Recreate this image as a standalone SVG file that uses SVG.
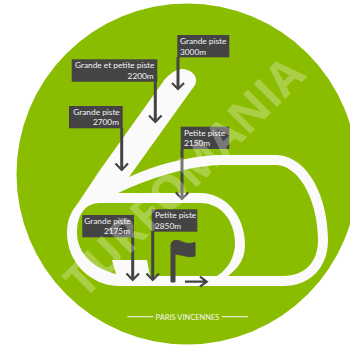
<svg xmlns="http://www.w3.org/2000/svg" width="350" height="345" viewBox="0 0 350 345">
<style>
.box{fill:#444444}
.t{font-family:"Lato","Open Sans",sans-serif;font-size:8.300px;fill:#f4f4f4}
.e{text-anchor:end}
.a{fill:none;stroke:#444444;stroke-width:3}
.h{fill:none;stroke:#444444;stroke-width:2.2}
</style>
<rect width="350" height="345" fill="#ffffff"/>
<circle cx="187" cy="174" r="170.500" fill="#8abd00"/>
<path id="track" fill="#fafafa" fill-rule="evenodd" d="M183 69C193 70 199 78 195 85L129 177C155 165 185 157 217 155L277 155C310 157 328 200 328 240C328 268 310 286 283 286L118 286C90 285 67 262 67 233C67 218 72 211 78 203L100 170L165 79C173 71 178 69 183 69ZM118 193C150 178 185 167 217 165L277 165C302 167 318 205 318 240C318 262 305 276 283 276L228 276C240 267 245 257 245 245C245 215 225 193 200 193ZM100 203L200 203C222 203 235 222 235 243C235 257 228 269 217 276L150 276L147 260L112 260L116 274C92 268 77 252 77 233C77 215 85 203 100 203Z"/>
<g id="connectors">
<path class="a" d="M178 57V88"/><path class="h" d="M172 83L178 89L184 83"/>
<path class="a" d="M155.300 81V121"/><path class="h" d="M149 115.500L155.300 122L161.600 115.500"/>
<path class="a" d="M121.700 128V169"/><path class="h" d="M115.500 163.500L121.700 170L128 163.500"/>
<path class="a" d="M182 149V198"/><path class="h" d="M175.800 192.500L182 199L188.200 192.500"/>
<path class="a" d="M132.700 237V279"/><path class="h" d="M126.500 273.500L132.700 280L139 273.500"/>
<path class="a" d="M152.700 231V279"/><path class="h" d="M146.500 273.500L152.700 280L159 273.500"/>
<path class="h" d="M185 281.700H206M200 276.700L206.700 281.700L200 286.700"/>
</g>
<g id="flag"><path fill="#444444" stroke="#444444" stroke-width="1" stroke-linejoin="round" d="M171 282V246C171 241 174 239.500 180 241C186 244 190 244 195 242.500V256C189 258 184 255 175 254V282Z"/></g>
<g id="n1"><rect class="box" x="177.300" y="35" width="52" height="22.300"/><text class="t" x="180" y="44">Grande piste</text><text class="t" x="180" y="54.700">3000m</text></g>
<g id="n2"><rect class="box" x="71.700" y="59.300" width="85.600" height="22.400"/><text class="t" x="75" y="68.300">Grande et petite piste</text><text class="t e" x="153.700" y="78.700">2200m</text></g>
<g id="n3"><rect class="box" x="69" y="106" width="53.700" height="22.300"/><text class="t" x="73.300" y="114.700">Grande piste</text><text class="t e" x="119" y="125.300">2700m</text></g>
<g id="n4"><rect class="box" x="180.700" y="126.700" width="48.600" height="22.300"/><text class="t" x="184" y="135.700">Petite piste</text><text class="t" x="184" y="145.700">2150m</text></g>
<g id="n5"><rect class="box" x="82.300" y="215" width="51.700" height="22.300"/><text class="t" x="84.300" y="223.700">Grande piste</text><text class="t e" x="130" y="234.300">2175m</text></g>
<g id="n6"><rect class="box" x="151.700" y="209.300" width="45.600" height="22.400"/><text class="t" x="155" y="218">Petite piste</text><text class="t" x="155" y="228.700">2850m</text></g>
<g id="footer">
<path fill="none" stroke="#f4f4f4" stroke-width="1" d="M127.300 316.700H153.300M221.700 316.700H248.300"/>
<text class="t" x="187.500" y="319.500" text-anchor="middle" style="font-size:7.500px">PARIS VINCENNES</text>
</g>
<text x="0" y="0" transform="translate(84 300) rotate(-45)" font-family="Open Sans,Liberation Sans,sans-serif" font-size="46" font-weight="700" fill="#ffffff" fill-opacity="0.3" textLength="316" lengthAdjust="spacingAndGlyphs">TURFOMANIA</text>
</svg>
